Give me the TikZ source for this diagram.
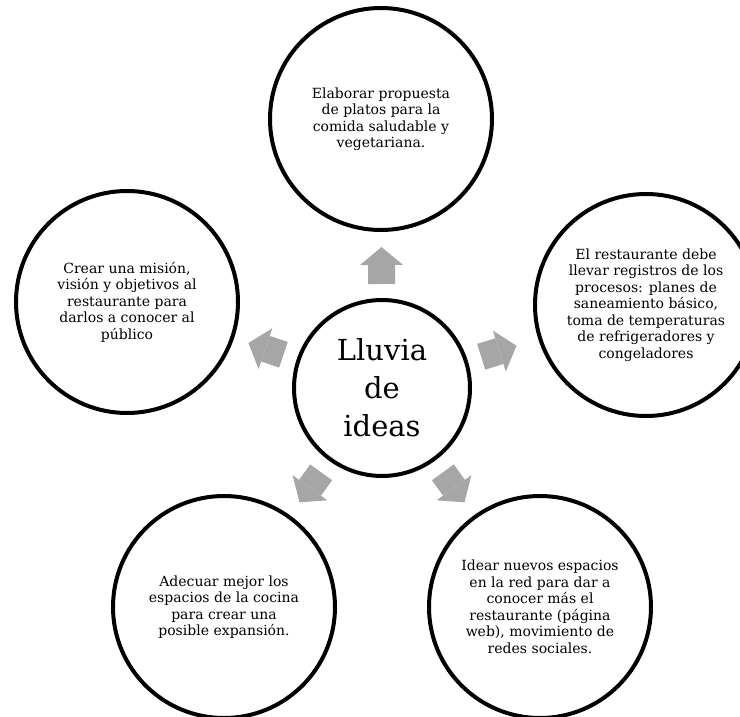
\documentclass[tikz,border=0pt]{standalone}
\usepackage{fontspec}
\setmainfont{DejaVu Serif}
\usetikzlibrary{arrows.meta,calc}
\definecolor{gris}{HTML}{A6A6A6}

\begin{document}
\begin{tikzpicture}[x=1pt,y=1pt,line width=4pt,>={Triangle[length=18pt,width=43pt,line width=0pt]}]
          \tikzstyle{idea}=[circle,draw=black,fill=white,minimum size=222pt,inner sep=0pt,align=center,font=\fontsize{14}{16.5}\selectfont]
          \tikzstyle{flecha}=[->,draw=gris,line width=27pt]
          \useasboundingbox (0,0) rectangle (740,716);

          \node[idea,minimum size=176pt,font=\fontsize{29}{38}\selectfont] (L) at (382,328) {Lluvia\\de\\ideas};
          \node[idea] (P) at (381,597) {Elaborar propuesta\\de platos para la\\comida saludable y\\vegetariana.};
          \node[idea] (R) at (646,411) {El restaurante debe\\llevar registros de los\\procesos: planes de\\saneamiento básico,\\toma de temperaturas\\de refrigeradores y\\congeladores};
          \node[idea] (M) at (127,414) {Crear una misión,\\visión y objetivos al\\restaurante para\\darlos a conocer al\\público};
          \node[idea] (K) at (224,109) {Adecuar mejor los\\espacios de la cocina\\para crear una\\posible expansión.};
          \node[idea] (W) at (540,109) {Idear nuevos espacios\\en la red para dar a\\conocer más el\\restaurante (página\\web), movimiento de\\redes sociales.};

          \foreach \n in {P,R,W,K,M}
            \draw[flecha] ($(L)!104pt!(\n)$) -- ($(L)!141pt!(\n)$);
        \end{tikzpicture}
\end{document}
